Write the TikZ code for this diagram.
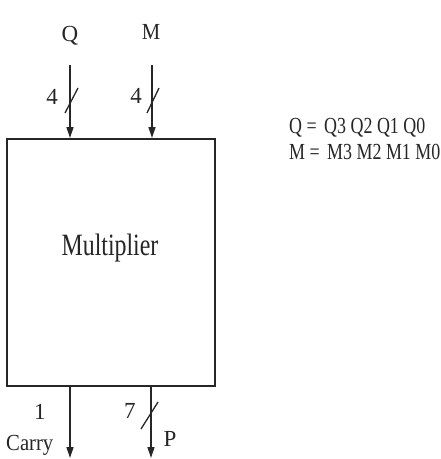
\documentclass[tikz,border=0pt]{standalone}
\usepackage{fontspec}
\setmainfont{Liberation Serif}
\usetikzlibrary{arrows.meta}
\tikzset{
  sig/.style={draw=black!85, line width=1.4pt, -{Triangle[length=11pt,width=7pt]}},
  bus/.style={draw=black!85, line width=1.3pt},
  lbl/.style={inner sep=0pt, text=black!85, font=\fontsize{23}{26}\selectfont},
  blk/.style={draw=black!85, line width=2pt, minimum width=208pt, minimum height=247pt, inner sep=0pt}
}
\begin{document}
\begin{tikzpicture}[x=1pt,y=-1pt]
\useasboundingbox (0,0) rectangle (441,459);
\node[blk] (mult) at (111,262.5) {};
\node[lbl, font=\fontsize{31}{34}\selectfont] (name) at (110,248) {\scalebox{0.77}[1]{Multiplier}};
% inputs
\coordinate (qin) at (70,65);
\coordinate (min) at (152,65);
\draw[sig] (qin) -- (qin |- mult.north);
\draw[sig] (min) -- (min |- mult.north);
\node[lbl] (qlab) at (70,36) {Q};
\node[lbl] (mlab) at (151,32) {\scalebox{0.9}[1]{M}};
\coordinate (qs1) at (65,113); \coordinate (qs2) at (78,88);
\coordinate (ms1) at (147,113); \coordinate (ms2) at (159,88);
\draw[bus] (qs1) -- (qs2);
\draw[bus] (ms1) -- (ms2);
\node[lbl] (q4) at (52,97) {4};
\node[lbl] (m4) at (136,96) {4};
% outputs
\coordinate (cout) at (70,458);
\coordinate (pout) at (151,458);
\draw[sig] (cout |- mult.south) -- (cout);
\draw[sig] (pout |- mult.south) -- (pout);
\coordinate (ps1) at (141,429); \coordinate (ps2) at (158,402);
\draw[bus] (ps1) -- (ps2);
\node[lbl] (c1) at (40,412) {1};
\node[lbl] (p7) at (130,411) {7};
\node[lbl, anchor=west] (carry) at (6,445) {\scalebox{0.9}[1]{Carry}};
\node[lbl] (plab) at (170,439) {P};
% definitions
\node[lbl, anchor=west] (qdef) at (289,128) {\scalebox{0.78}[1]{Q = \,Q3 Q2 Q1 Q0}};
\node[lbl, anchor=west] (mdef) at (289,152) {\scalebox{0.78}[1]{M = \,M3 M2 M1 M0}};
\end{tikzpicture}
\end{document}
